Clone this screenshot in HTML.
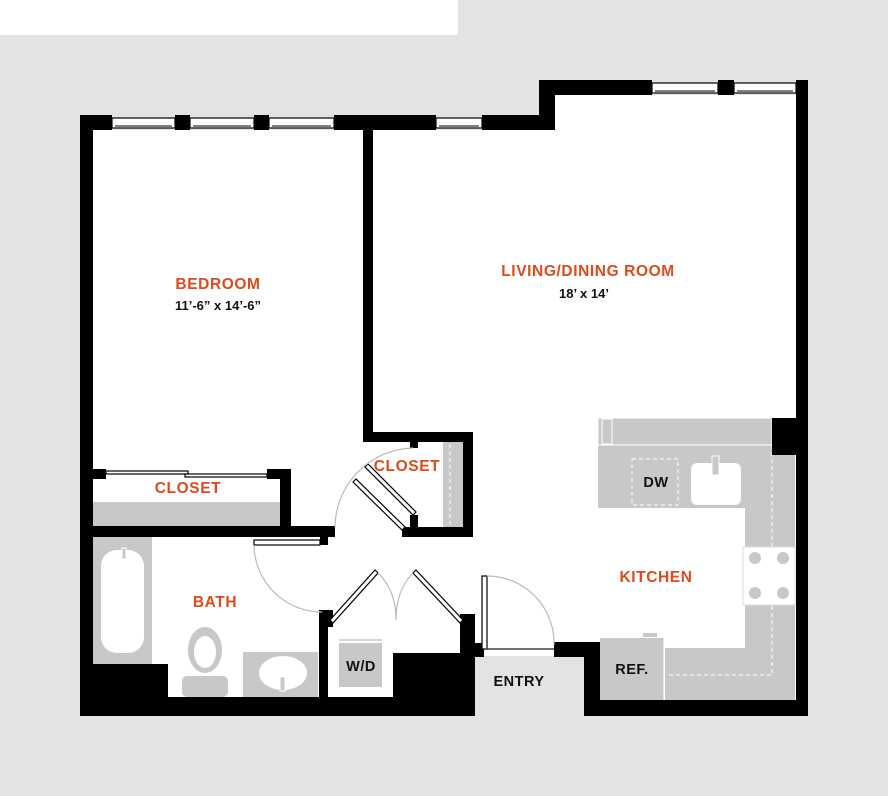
<!DOCTYPE html>
<html><head><meta charset="utf-8"><style>
html,body{margin:0;padding:0;background:#e3e3e3;}
svg{display:block}
text{font-family:"Liberation Sans",sans-serif;font-weight:bold;}
.o{fill:#e04a1a;font-size:15.5px;text-anchor:middle;letter-spacing:0.6px}
.k{fill:#111;font-size:13px;text-anchor:middle}
.l{fill:#111;font-size:14.5px;text-anchor:middle;letter-spacing:0.5px}
</style></head><body>
<svg width="888" height="796" viewBox="0 0 888 796" xmlns="http://www.w3.org/2000/svg">
<rect x="0" y="0" width="888" height="796" fill="#e3e3e3"/>
<rect x="0" y="0" width="458" height="35" fill="#fff"/>
<polygon points="93,130 539,130 539,95 796,95 796,700 600,700 600,656 475,656 475,697 93,697" fill="#fff"/>
<g fill="#fff" stroke="#000" stroke-width="1.2">
<rect x="112" y="118" width="63" height="10"/><rect x="190" y="118" width="64" height="10"/><rect x="269" y="118" width="65" height="10"/>
<rect x="436" y="118" width="46" height="10"/>
<rect x="652" y="83" width="66" height="10"/><rect x="734" y="83" width="62" height="10"/>
</g>
<g stroke="#555" stroke-width="1.5">
<line x1="115" y1="126" x2="172" y2="126"/><line x1="193" y1="126" x2="251" y2="126"/><line x1="272" y1="126" x2="331" y2="126"/>
<line x1="439" y1="126" x2="479" y2="126"/><line x1="655" y1="91" x2="715" y2="91"/><line x1="737" y1="91" x2="793" y2="91"/>
</g>
<g fill="#c8c8c8">
<rect x="93" y="502" width="187" height="24"/>
<rect x="443" y="442" width="20" height="85"/>
<rect x="93" y="537" width="59" height="127"/>
<rect x="182" y="676" width="46" height="21" rx="5"/>
<ellipse cx="205" cy="650" rx="17" ry="23"/>
<rect x="243" y="652" width="75" height="45"/>
<rect x="339" y="643" width="43" height="44"/>
<rect x="598" y="418" width="174" height="90"/>
<rect x="745" y="445" width="50" height="255"/>
<rect x="665" y="648" width="80" height="52"/>
<rect x="600" y="638" width="64" height="62"/>
<rect x="643" y="633" width="14" height="4"/>
</g>
<rect x="598" y="418" width="174" height="27" fill="#c8c8c8" stroke="#fff" stroke-width="1"/>
<rect x="602" y="419" width="10" height="25" fill="none" stroke="#fff" stroke-width="1"/>
<line x1="339" y1="640" x2="382" y2="640" stroke="#c8c8c8" stroke-width="1.5"/>
<line x1="450" y1="444" x2="450" y2="525" stroke="#fff" stroke-dasharray="4,3"/>
<rect x="101" y="550" width="43" height="103" rx="16" fill="#fff"/>
<rect x="122" y="548" width="4" height="11" fill="#c8c8c8" stroke="#fff"/>
<ellipse cx="205" cy="652" rx="11" ry="16" fill="#fff"/>
<ellipse cx="283" cy="673" rx="24" ry="17" fill="#fff"/>
<rect x="280" y="677" width="5" height="14" fill="#c8c8c8" stroke="#fff"/>
<rect x="632" y="459" width="46" height="46" fill="none" stroke="#fff" stroke-dasharray="4,3"/>
<rect x="691" y="463" width="50" height="42" rx="6" fill="#fff"/>
<rect x="712" y="456" width="7" height="19" fill="#c8c8c8" stroke="#fff"/>
<polyline points="772,445 772,675 668,675" fill="none" stroke="#fff" stroke-dasharray="4,3"/>
<rect x="743" y="547" width="52" height="58" fill="#fff" stroke="#ddd"/>
<g fill="#c8c8c8"><circle cx="755" cy="558" r="6"/><circle cx="783" cy="558" r="6"/><circle cx="755" cy="593" r="6"/><circle cx="783" cy="593" r="6"/></g>
<line x1="664" y1="638" x2="664" y2="700" stroke="#fff"/>
<g fill="#000">
<rect x="80" y="115" width="32" height="15"/><rect x="80" y="115" width="13" height="601"/>
<rect x="175" y="115" width="15" height="15"/><rect x="254" y="115" width="15" height="15"/>
<rect x="334" y="115" width="102" height="15"/><rect x="482" y="115" width="73" height="15"/>
<rect x="539" y="80" width="16" height="50"/><rect x="539" y="80" width="113" height="15"/>
<rect x="718" y="80" width="16" height="15"/><rect x="796" y="80" width="12" height="636"/>
<rect x="363" y="130" width="10" height="312"/><rect x="363" y="432" width="110" height="10"/>
<rect x="463" y="432" width="10" height="105"/><rect x="402" y="527" width="71" height="10"/>
<rect x="410" y="442" width="8" height="6"/><rect x="410" y="515" width="8" height="12"/>
<rect x="93" y="469" width="13" height="10"/><rect x="267" y="469" width="24" height="10"/>
<rect x="280" y="469" width="11" height="60"/>
<rect x="80" y="526" width="255" height="11"/><rect x="320" y="537" width="8" height="8"/>
<rect x="80" y="664" width="88" height="52"/><rect x="80" y="697" width="395" height="19"/>
<rect x="319" y="610" width="9" height="87"/><rect x="319" y="610" width="14" height="17"/>
<rect x="460" y="614" width="15" height="102"/><rect x="393" y="653" width="82" height="63"/>
<rect x="475" y="643" width="9" height="14"/>
<rect x="554" y="642" width="46" height="15"/><rect x="584" y="642" width="16" height="74"/>
<rect x="584" y="700" width="224" height="16"/>
<rect x="772" y="418" width="24" height="37"/>
</g>
<g fill="#fff" stroke="#000" stroke-width="1.2">
<rect x="106" y="471" width="82" height="3"/><rect x="185" y="474" width="82" height="3"/>
<rect x="254" y="540" width="66" height="5"/>
<polygon points="365,467 368,464 416,512 413,515"/>
<polygon points="353,482 356,479 405,527 402,530"/>
<polygon points="333,623 330,620 375,570 378,573"/>
<polygon points="413,573 416,570 463,620 460,623"/>
<rect x="482" y="576" width="5" height="73"/>
</g>
<g fill="none" stroke="#bbb" stroke-width="1.2">
<path d="M254,545 A68,68 0 0 0 322,612"/>
<path d="M413,448 A80,80 0 0 0 335,527"/>
<path d="M378,573 Q396,590 396,620 Q396,590 413,573"/>
<path d="M487,576 A67,67 0 0 1 554,645"/>
</g>
<line x1="486" y1="649" x2="554" y2="649" stroke="#444" stroke-width="1.5"/>
<text class="o" x="218" y="289">BEDROOM</text>
<text class="k" x="218" y="310">11’-6” x 14’-6”</text>
<text class="o" x="588" y="276">LIVING/DINING ROOM</text>
<text class="k" x="584" y="298">18’ x 14’</text>
<text class="o" x="407" y="471">CLOSET</text>
<text class="o" x="188" y="493">CLOSET</text>
<text class="o" x="215" y="607">BATH</text>
<text class="o" x="656" y="582">KITCHEN</text>
<text class="l" x="656" y="487">DW</text>
<text class="l" x="632" y="674">REF.</text>
<text class="l" x="361" y="671">W/D</text>
<text class="l" x="519" y="686">ENTRY</text>
</svg>
</body></html>
